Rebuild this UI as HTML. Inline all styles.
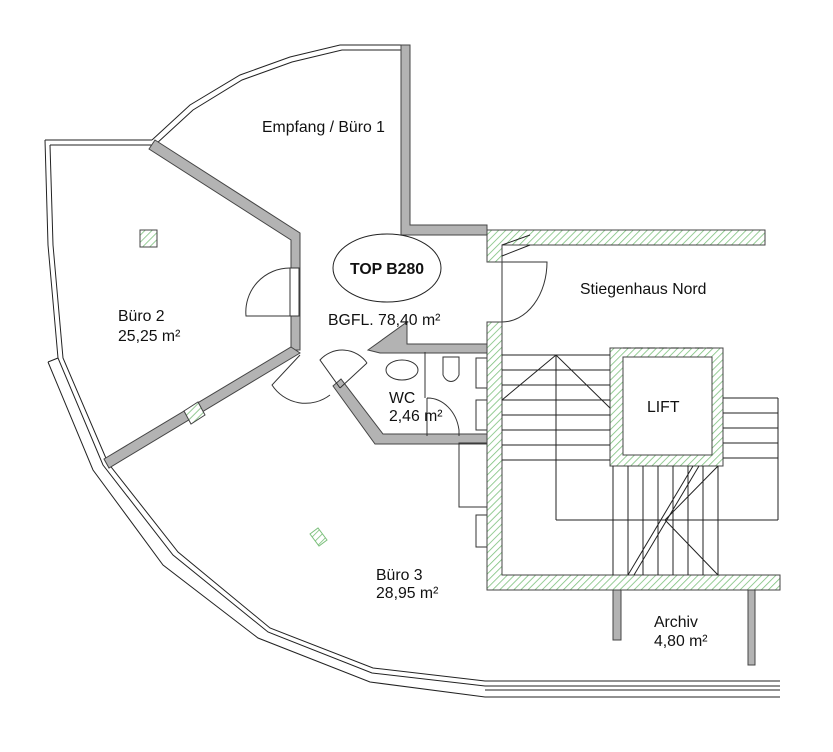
<!DOCTYPE html>
<html><head><meta charset="utf-8"><style>
html,body{margin:0;padding:0;background:#fff}
svg{display:block}
text{font-family:"Liberation Sans",sans-serif;font-size:15.8px;fill:#111}
</style></head><body>
<svg width="833" height="752" viewBox="0 0 833 752" xmlns="http://www.w3.org/2000/svg">
<defs>
<pattern id="h" patternUnits="userSpaceOnUse" width="5" height="5" patternTransform="rotate(45)">
<rect width="5" height="5" fill="#fff"/><line x1="0" y1="0" x2="0" y2="5" stroke="#7cc07c" stroke-width="1.6"/>
</pattern>
</defs>
<g fill="none" stroke="#222" stroke-width="1">
<polyline points="152,140 190,105 240,75 290,57 340,45 408,45"/>
<polyline points="156,144 193,110 242,80 292,62 342,50 404,50"/>
<polyline points="45,140 152,140"/>
<polyline points="50,145 152,145"/>
<polyline points="45,140 48,245 58,358 103,465 173,555 268,632 372,673 485,686 780,686"/>
<polyline points="50,145 53,245 63,358 108,463 178,552 270,628 373,668 485,681 780,681"/>
<polyline points="48,362 93,470 163,565 258,638 370,682 485,697 780,697"/>
<line x1="48" y1="362" x2="58" y2="358"/>
<line x1="485" y1="690" x2="780" y2="690"/>
</g>
<g fill="#b3b3b3" stroke="#444" stroke-width="1">
<polygon points="149,149 155,140 300,233 300,350 291,350 291,240"/>
<polygon points="291,347 300,353 109,468 104,459"/>
<polygon points="333,386 341,379 383,434 487,434 487,444 375,444"/>
<polygon points="401,45 410,45 410,225 487,225 487,235 401,235"/>
<polygon points="368,350 407,322 407,344 487,344 487,353 407,353 380,353"/>
<polygon points="613,590 621,590 621,640 613,640"/>
<polygon points="748,590 755,590 755,665 748,665"/>
</g>
<g fill="none" stroke="#333" stroke-width="1">
<rect x="290" y="268" width="9" height="48" fill="#fff"/>
<path d="M290,316 L246,316 A44,44 0 0 1 290,268"/>
<path d="M300,355 L272,385 A40,40 0 0 0 330,395"/>
<path d="M367,363 L340,388"/>
<path d="M340,388 L320,360 A30,30 0 0 1 367,363"/>
<path d="M502,262 L502,322 M502,322 A45,60 0 0 0 547,262 L502,262"/>
<path d="M427,398 A32,38 0 0 1 459,430 L459,436 M427,398 L427,436"/>
<ellipse cx="402" cy="370" rx="16" ry="10"/>
<path d="M443,357 L443,375 A9,12 0 0 0 459,375 L459,357 Z"/>
<line x1="425" y1="352" x2="425" y2="398"/>
<rect x="476" y="358" width="11" height="30"/><rect x="476" y="400" width="11" height="30"/>
<rect x="476" y="515" width="11" height="32"/>
<polyline points="487,443 459,443 459,507 487,507"/>
</g>
<g fill="url(#h)" stroke="#444" stroke-width="1">
<polygon points="487,230 765,230 765,245 502,245 502,262 487,262"/>
<polygon points="487,322 502,322 502,575 780,575 780,590 487,590"/>
<path d="M610,348 H723 V466 H610 Z M623,357 V455 H712 V357 Z" fill-rule="evenodd"/>
<rect x="140" y="230" width="17" height="17"/>
<polygon points="184,411 198,402 205,415 191,424"/>
<polygon points="310,534 318,528 327,540 319,546" stroke="#7cc07c"/>
</g>
<g fill="none" stroke="#222" stroke-width="1">
<line x1="623" y1="348" x2="712" y2="348" stroke-dasharray="8,4"/>
<line x1="502" y1="355" x2="610" y2="355"/><line x1="502" y1="370" x2="610" y2="370"/>
<line x1="502" y1="385" x2="610" y2="385"/><line x1="502" y1="400" x2="610" y2="400"/>
<line x1="502" y1="415" x2="610" y2="415"/><line x1="502" y1="430" x2="610" y2="430"/>
<line x1="502" y1="445" x2="610" y2="445"/><line x1="502" y1="460" x2="610" y2="460"/>
<line x1="723" y1="398" x2="778" y2="398"/><line x1="723" y1="413" x2="778" y2="413"/>
<line x1="723" y1="428" x2="778" y2="428"/><line x1="723" y1="443" x2="778" y2="443"/>
<line x1="723" y1="458" x2="778" y2="458"/><line x1="778" y1="398" x2="778" y2="520"/>
<line x1="556" y1="355" x2="556" y2="520"/><line x1="556" y1="520" x2="778" y2="520"/>
<polyline points="502,400 556,355 610,408"/>
<line x1="613" y1="466" x2="613" y2="575"/><line x1="628" y1="466" x2="628" y2="575"/>
<line x1="643" y1="466" x2="643" y2="575"/><line x1="658" y1="466" x2="658" y2="575"/>
<line x1="673" y1="466" x2="673" y2="575"/><line x1="688" y1="466" x2="688" y2="575"/>
<line x1="703" y1="466" x2="703" y2="575"/><line x1="718" y1="466" x2="718" y2="575"/>
<line x1="628" y1="575" x2="693" y2="466"/><line x1="634" y1="575" x2="699" y2="466"/>
<polyline points="718,466 665,520 718,575"/>
<line x1="502" y1="245" x2="530" y2="235"/><line x1="502" y1="256" x2="530" y2="245"/>
</g>
<ellipse cx="387" cy="268" rx="54" ry="34" fill="none" stroke="#222"/>
<text x="387" y="274" text-anchor="middle" style="font-weight:bold">TOP B280</text>
<text x="262" y="132">Empfang / Büro 1</text>
<text x="328" y="325">BGFL. 78,40 m²</text>
<text x="118" y="321">Büro 2</text>
<text x="118" y="341">25,25 m²</text>
<text x="389" y="403">WC</text>
<text x="389" y="421">2,46 m²</text>
<text x="580" y="294">Stiegenhaus Nord</text>
<text x="647" y="412">LIFT</text>
<text x="376" y="580">Büro 3</text>
<text x="376" y="598">28,95 m²</text>
<text x="654" y="627">Archiv</text>
<text x="654" y="646">4,80 m²</text>
</svg>
</body></html>
